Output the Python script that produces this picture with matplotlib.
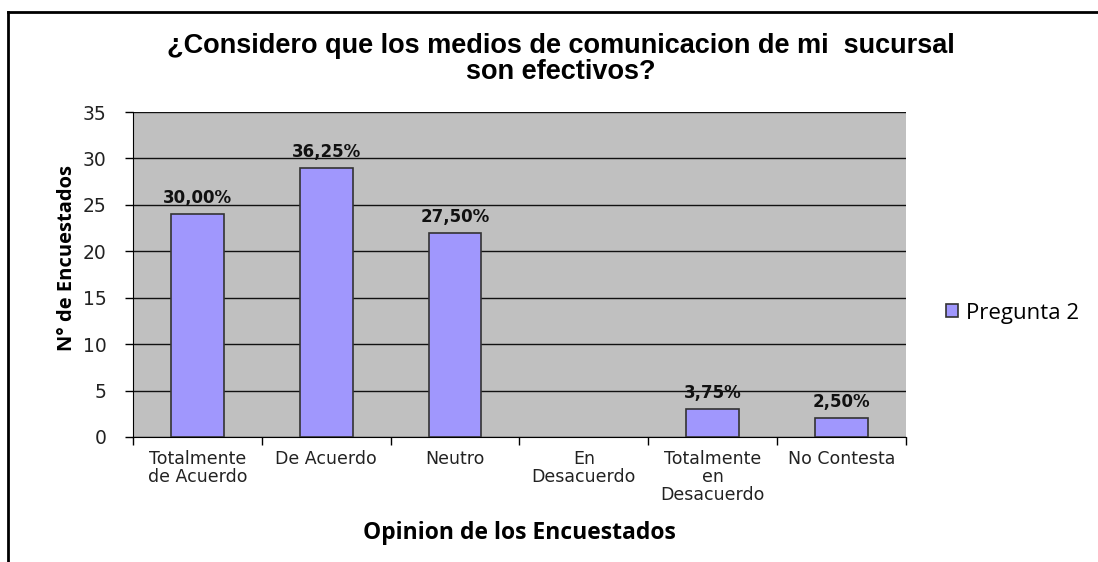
import matplotlib
matplotlib.use("Agg")
import matplotlib.pyplot as plt
from matplotlib.lines import Line2D
import numpy as np

categorias = ["Totalmente\nde Acuerdo", "De Acuerdo", "Neutro", "En\nDesacuerdo",
              "Totalmente\nen\nDesacuerdo", "No Contesta"]
encuestados = [24, 29, 22, 0, 3, 2]
porcentajes = ["30,00%", "36,25%", "27,50%", "", "3,75%", "2,50%"]
serie = "Pregunta 2"
titulo = "¿Considero que los medios de comunicacion de mi  sucursal\nson efectivos?"

W, H = 1098, 562
fig = plt.figure(figsize=(W / 100, H / 100), dpi=100)
fig.patch.set_facecolor("white")

ax = fig.add_axes([133 / W, 1 - 437 / H, (906 - 133) / W, (437 - 112) / H])
ax.set_facecolor("#c0c0c0")

x = np.arange(len(categorias))
bars = ax.bar(x, encuestados, width=0.41, color="#a097fd", edgecolor="#333333",
              linewidth=1.2, label=serie, zorder=3)
for b, txt in zip(bars, porcentajes):
    if b.get_height() == 0:
        b.set_linewidth(0)
    if txt:
        ax.annotate(txt, (b.get_x() + b.get_width() / 2, b.get_height()),
                    xytext=(0, 5), textcoords="offset points", ha="center", va="bottom",
                    fontsize=12, fontweight="bold", family="DejaVu Sans", color="#111111",
                    zorder=4)

ax.set_xlim(-0.5, len(categorias) - 0.5)
ax.set_ylim(0, 35)
ax.set_yticks(range(0, 36, 5))
ax.yaxis.grid(True, color="#111111", linewidth=1.0, zorder=1)
ax.set_axisbelow(True)

# category boundary ticks, labels at centers
ax.set_xticks(np.arange(-0.5, len(categorias)), labels=[""] * (len(categorias) + 1))
ax.set_xticks(x, labels=categorias, minor=True)
ax.tick_params(axis="x", which="major", length=6, width=1, direction="out", color="black")
ax.tick_params(axis="x", which="minor", length=0, pad=9, labelsize=12.5, labelcolor="#222222")
ax.tick_params(axis="y", length=6, width=1, direction="out", pad=13, labelsize=13.5,
               labelcolor="#222222")
for lab in ax.get_xticklabels(minor=True):
    lab.set_family("DejaVu Sans")
    lab.set_linespacing(1.02)

for s in ["top", "right"]:
    ax.spines[s].set_visible(False)
ax.spines["left"].set_color("black")
ax.spines["bottom"].set_color("black")

ax.set_ylabel("N° de Encuestados", fontsize=14.5, fontweight="bold", family="Open Sans")
ax.yaxis.set_label_coords(-0.072, 0.55)
ax.set_xlabel("Opinion de los Encuestados", fontsize=16.5, fontweight="bold",
              family="Open Sans", va="center")
ax.xaxis.set_label_coords(0.5, -0.295)

fig.text(561 / W, 1 - 59 / H, titulo, ha="center", va="center", fontsize=19.5,
         fontweight="bold", family="Liberation Sans", linespacing=1.02)

fig.legend(loc="center left", bbox_to_anchor=(946 / W, 1 - 313 / H), frameon=False,
           prop={"family": "Open Sans", "size": 16}, handlelength=0.55,
           handleheight=0.55, handletextpad=0.35, borderpad=0, borderaxespad=0)

# outer chart border (top and left)
fig.add_artist(Line2D([8 / W, 1], [1 - 12 / H, 1 - 12 / H], color="black", linewidth=2,
                      transform=fig.transFigure))
fig.add_artist(Line2D([8 / W, 8 / W], [1 - 12 / H, 0], color="black", linewidth=2,
                      transform=fig.transFigure))

fig.savefig("out.png", dpi=100)
